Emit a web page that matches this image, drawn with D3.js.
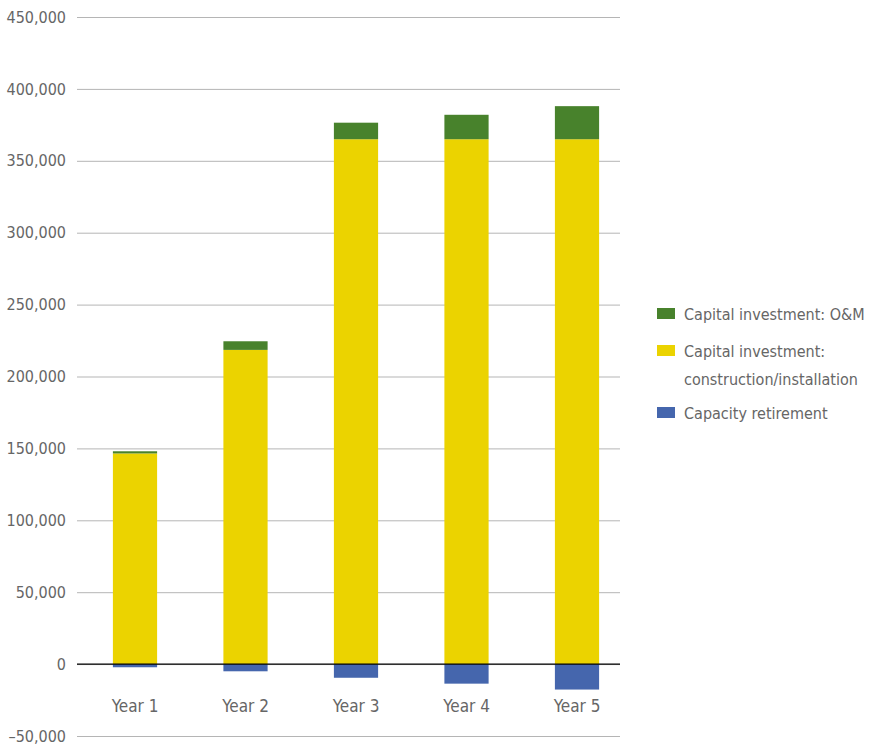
<!DOCTYPE html>
<html>
<head>
<meta charset="utf-8">
<script src="https://cdn.jsdelivr.net/npm/d3@7"></script>
<style>
  body { margin: 0; background: #fff; }
  text { font-family: "DejaVu Sans Condensed", "DejaVu Sans", sans-serif; font-stretch: condensed; fill: #666; }
</style>
</head>
<body>
<div id="container"></div>
<script>
// ---- data ----
var years = ["Year 1", "Year 2", "Year 3", "Year 4", "Year 5"];
var construction = [146500, 218500, 365000, 365000, 365000];
var oandm = [1500, 6000, 11500, 17000, 23000];
var retirement = [-2200, -5000, -9500, -13600, -17700];
var yTicks = [-50000, 0, 50000, 100000, 150000, 200000, 250000, 300000, 350000, 400000, 450000];

var seriesNames = ["Capital investment: O&M", "Capital investment:\nconstruction/installation", "Capacity retirement"];
var seriesColors = ["#48822c", "#ebd300", "#4566ad"];

// ---- setup ----
var width = 872, height = 745;
var gridLeft = 77, gridRight = 620;

var svg = d3.select("#container").append("svg")
    .attr("width", width)
    .attr("height", height);

var rows = years.map(function(y, i) {
    return { year: y, construction: construction[i], oandm: oandm[i], retirement: retirement[i] };
});

var stacked = d3.stack()
    .keys(["construction", "oandm", "retirement"])
    .offset(d3.stackOffsetDiverging)(rows);

var colorByKey = { oandm: seriesColors[0], construction: seriesColors[1], retirement: seriesColors[2] };

// scales
var x = d3.scaleBand()
    .domain(years)
    .range([79.75, 632.25])
    .paddingInner(0.6)
    .paddingOuter(0.3);

var y = d3.scaleLinear()
    .domain([-50000, 450000])
    .range([736, 17]);

// grid lines
svg.append("g")
    .attr("transform", "translate(" + gridLeft + ",0)")
    .call(d3.axisRight(y).tickValues(yTicks).tickSize(gridRight - gridLeft).tickFormat(""))
    .call(function(g) {
        g.select(".domain").remove();
        g.selectAll(".tick line").attr("stroke", "#b5b5b5").attr("stroke-width", 1);
    });

// y labels
svg.append("g")
    .attr("transform", "translate(66,0)")
    .call(d3.axisLeft(y).tickValues(yTicks).tickSize(0).tickPadding(0)
        .tickFormat(function(d) { return d < 0 ? "–" + d3.format(",")(-d) : d3.format(",")(d); }))
    .call(function(g) {
        g.select(".domain").remove();
        g.selectAll("text").style("font-size", "16px").attr("fill", "#666");
    });

// bars
svg.append("g")
    .selectAll("g")
    .data(stacked)
    .enter()
    .append("g")
    .attr("fill", function(d) { return colorByKey[d.key]; })
    .selectAll("rect")
    .data(function(d) { return d; })
    .enter()
    .append("rect")
    .attr("x", function(d) { return x(d.data.year); })
    .attr("width", x.bandwidth())
    .attr("y", function(d) { return y(d[1]); })
    .attr("height", function(d) { return y(d[0]) - y(d[1]); });

// zero line
svg.append("line")
    .attr("x1", gridLeft)
    .attr("x2", gridRight)
    .attr("y1", y(0))
    .attr("y2", y(0))
    .attr("stroke", "#000")
    .attr("stroke-width", 1.3);

// x labels
svg.append("g")
    .attr("transform", "translate(0," + y(0) + ")")
    .call(d3.axisBottom(x).tickSize(0).tickPadding(36))
    .call(function(g) {
        g.select(".domain").remove();
        g.selectAll("text").style("font-size", "17px").attr("fill", "#666");
    });

// legend
var legendY = [314, 351, 413];
var legend = svg.append("g");
seriesNames.forEach(function(name, i) {
    legend.append("rect")
        .attr("x", 657)
        .attr("y", legendY[i] - 6)
        .attr("width", 18)
        .attr("height", 11)
        .attr("fill", seriesColors[i]);
    var t = legend.append("text")
        .attr("x", 684)
        .attr("y", legendY[i] + 6)
        .style("font-size", "16px");
    name.split("\n").forEach(function(line, j) {
        t.append("tspan").attr("x", 684).attr("dy", j === 0 ? 0 : 28).text(line);
    });
});
</script>
</body>
</html>
